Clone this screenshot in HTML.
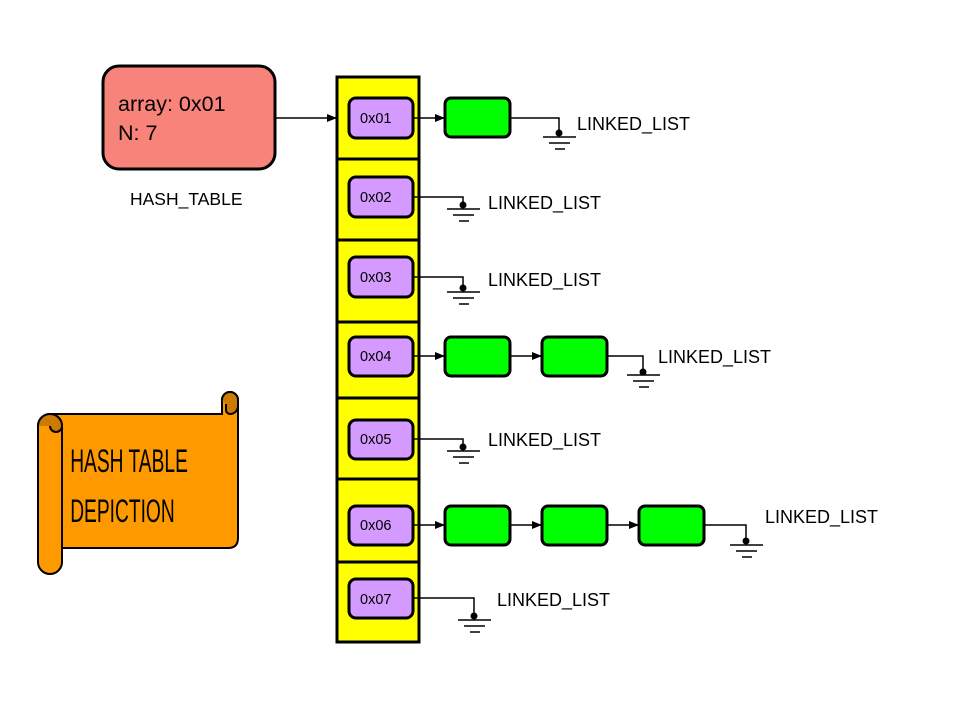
<!DOCTYPE html>
<html><head><meta charset="utf-8"><style>html,body{margin:0;padding:0;background:#fff}svg{display:block}</style></head>
<body>
<svg width="960" height="720" viewBox="0 0 960 720" xmlns="http://www.w3.org/2000/svg" font-family="Liberation Sans, sans-serif">
<defs><marker id="a" markerWidth="10" markerHeight="8" refX="10" refY="4" orient="auto" markerUnits="userSpaceOnUse"><path d="M0,0 L10,4 L0,8 z" fill="#000"/></marker></defs>
<rect x="103" y="66" width="172" height="103" rx="16" fill="#f8837a" stroke="#000" stroke-width="3"/>
<text x="118" y="111" font-size="21.5">array: 0x01</text>
<text x="118" y="140" font-size="21.5">N: 7</text>
<text x="130" y="205" font-size="17.5">HASH_TABLE</text>
<line x1="275" y1="118" x2="337" y2="118" stroke="#000" stroke-width="1.5" marker-end="url(#a)"/>
<g fill="#ffff00" stroke="#000" stroke-width="3">
<rect x="337" y="77" width="82" height="82"/><rect x="337" y="159" width="82" height="81"/><rect x="337" y="240" width="82" height="82"/><rect x="337" y="322" width="82" height="76"/><rect x="337" y="398" width="82" height="81"/><rect x="337" y="479" width="82" height="83"/><rect x="337" y="562" width="82" height="80"/>
</g>
<g fill="#d59aff" stroke="#000" stroke-width="3">
<rect x="349" y="98" width="64" height="40" rx="7"/><rect x="349" y="177" width="64" height="40" rx="7"/><rect x="349" y="257" width="64" height="40" rx="7"/><rect x="349" y="337" width="64" height="39" rx="7"/><rect x="349" y="420" width="64" height="39" rx="7"/><rect x="349" y="506" width="64" height="39" rx="7"/><rect x="349" y="579" width="64" height="39" rx="7"/>
</g>
<g font-size="14.5">
<text x="360" y="123">0x01</text><text x="360" y="202">0x02</text><text x="360" y="282">0x03</text><text x="360" y="361">0x04</text><text x="360" y="444">0x05</text><text x="360" y="530">0x06</text><text x="360" y="604">0x07</text>
</g>
<g fill="#00ff00" stroke="#000" stroke-width="3">
<rect x="445" y="98" width="65" height="39" rx="6"/>
<rect x="445" y="337" width="65" height="39" rx="6"/><rect x="542" y="337" width="65" height="39" rx="6"/>
<rect x="445" y="506" width="65" height="39" rx="6"/><rect x="542" y="506" width="65" height="39" rx="6"/><rect x="639" y="506" width="65" height="39" rx="6"/>
</g>
<g stroke="#000" stroke-width="1.5" marker-end="url(#a)">
<line x1="413" y1="118" x2="445" y2="118"/>
<line x1="413" y1="356" x2="445" y2="356"/><line x1="510" y1="356" x2="542" y2="356"/>
<line x1="413" y1="525" x2="445" y2="525"/><line x1="510" y1="525" x2="542" y2="525"/><line x1="607" y1="525" x2="639" y2="525"/>
</g>
<g stroke="#000" stroke-width="1.5" fill="none">
<path d="M510,118 H559 V133"/><path d="M543,137 H576 M549,143 H570 M555,149 H565"/>
<path d="M413,197 H463 V205"/><path d="M447,209 H480 M453,215 H474 M459,221 H469"/>
<path d="M413,277 H463 V288"/><path d="M447,292 H480 M453,298 H474 M459,304 H469"/>
<path d="M607,356 H643 V372"/><path d="M627,375 H660 M633,381 H654 M639,387 H649"/>
<path d="M413,439 H463 V447"/><path d="M447,451 H480 M453,457 H474 M459,463 H469"/>
<path d="M704,525 H746 V541"/><path d="M730,545 H763 M736,551 H757 M742,557 H752"/>
<path d="M413,598 H474 V616"/><path d="M458,620 H491 M464,626 H485 M470,632 H480"/>
</g>
<g fill="#000">
<circle cx="559" cy="133" r="3.5"/><circle cx="463" cy="205" r="3.5"/><circle cx="463" cy="288" r="3.5"/><circle cx="643" cy="372" r="3.5"/><circle cx="463" cy="447" r="3.5"/><circle cx="746" cy="541" r="3.5"/><circle cx="474" cy="616" r="3.5"/>
</g>
<g font-size="18">
<text x="577" y="130">LINKED_LIST</text><text x="488" y="209">LINKED_LIST</text><text x="488" y="286">LINKED_LIST</text><text x="658" y="363">LINKED_LIST</text><text x="488" y="446">LINKED_LIST</text><text x="765" y="523">LINKED_LIST</text><text x="497" y="606">LINKED_LIST</text>
</g>
<g stroke="#000" stroke-width="2">
<path d="M50,414 H222 V400 a8,8 0 0 1 16,0 V538 Q238,548 228,548 H62 V562 a12,12 0 0 1 -24,0 V426 a12,12 0 0 1 12,-12 z" fill="#ff9900"/>
<path d="M50,414 a12,12 0 0 1 12,12 V548" fill="none"/>
<path d="M38,426 a12,12 0 0 1 24,0 a6,6 0 0 1 -12,0" fill="#cc7a00"/>
<path d="M222,400 a8,8 0 0 1 16,0 V406 a8,8 0 0 1 -8,8 a4,4 0 0 1 -4,-4 V404" fill="#cc7a00"/>
</g>
<g font-family="Liberation Sans Narrow, Liberation Sans, sans-serif" font-size="32" fill="#000" transform="scale(0.6,1)">
<text x="117" y="472">HASH TABLE</text>
<text x="117" y="522">DEPICTION</text>
</g>
</svg>
</body></html>
